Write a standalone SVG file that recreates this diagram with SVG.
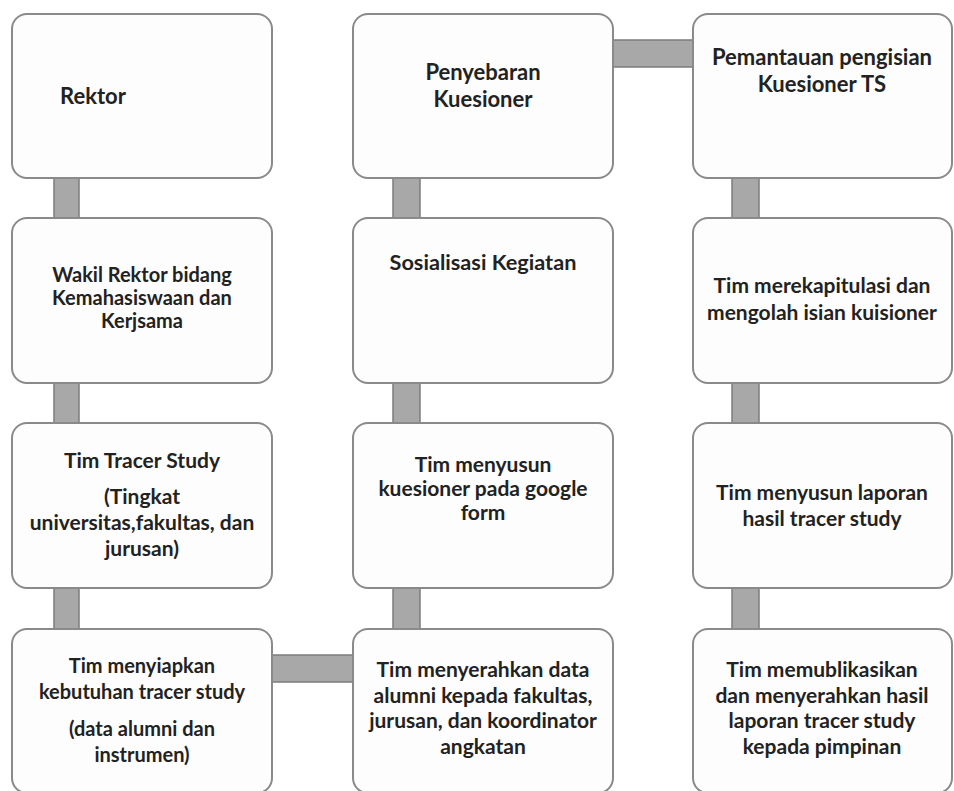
<svg xmlns="http://www.w3.org/2000/svg" width="954" height="791" viewBox="0 0 954 791">
<style>
.bg{fill:#ffffff}
.box{fill:#fdfdfd;stroke:#8a8a8a;stroke-width:2}
.bar{fill:#a8a8a8;stroke:#7c7c7c;stroke-width:1.5}
.t{font-family:Lato,"Open Sans","Liberation Sans",sans-serif;font-weight:bold;font-size:21px;fill:#222;text-anchor:middle}
.l{text-anchor:start}
.s22{font-size:22px}
.s20{font-size:20px}
.s217{font-size:21.7px}
</style>
<rect class="bg" x="0" y="0" width="954" height="791"/>
<g id="connectors">
<rect class="bar" x="54" y="170" width="25" height="56"/>
<rect class="bar" x="54" y="375" width="25" height="56"/>
<rect class="bar" x="54" y="580" width="25" height="56"/>
<rect class="bar" x="393" y="170" width="27" height="56"/>
<rect class="bar" x="393" y="375" width="27" height="56"/>
<rect class="bar" x="393" y="580" width="27" height="56"/>
<rect class="bar" x="732" y="170" width="27" height="56"/>
<rect class="bar" x="732" y="375" width="27" height="56"/>
<rect class="bar" x="732" y="580" width="27" height="56"/>
<rect class="bar" x="605" y="40" width="96" height="27"/>
<rect class="bar" x="264" y="655" width="97" height="27"/>
</g>
<g id="n-rektor">
<rect class="box" x="12" y="14" width="260" height="164" rx="15"/>
<text class="t l s22" x="60" y="104">Rektor</text>
</g>
<g id="n-wakil">
<rect class="box" x="12" y="218" width="260" height="165" rx="15"/>
<text class="t s20" x="142" y="282">Wakil Rektor bidang</text>
<text class="t s20" x="142" y="305">Kemahasiswaan dan</text>
<text class="t s20" x="142" y="328">Kerjsama</text>
</g>
<g id="n-tim-tracer">
<rect class="box" x="12" y="423" width="260" height="165" rx="15"/>
<text class="t" x="142" y="468">Tim Tracer Study</text>
<text class="t" x="142" y="504">(Tingkat</text>
<text class="t" x="142" y="530">universitas,fakultas, dan</text>
<text class="t" x="142" y="556">jurusan)</text>
</g>
<g id="n-menyiapkan">
<rect class="box" x="12" y="629" width="260" height="164" rx="15"/>
<text class="t s20" x="142" y="673">Tim menyiapkan</text>
<text class="t s20" x="142" y="699">kebutuhan tracer study</text>
<text class="t s20" x="142" y="736">(data alumni dan</text>
<text class="t s20" x="142" y="762">instrumen)</text>
</g>
<g id="n-penyebaran">
<rect class="box" x="353" y="14" width="260" height="164" rx="15"/>
<text class="t s22" x="483" y="80">Penyebaran</text>
<text class="t s22" x="483" y="107">Kuesioner</text>
</g>
<g id="n-sosialisasi">
<rect class="box" x="353" y="218" width="260" height="165" rx="15"/>
<text class="t s217" x="483" y="270">Sosialisasi Kegiatan</text>
</g>
<g id="n-menyusun-kuesioner">
<rect class="box" x="353" y="423" width="260" height="165" rx="15"/>
<text class="t" x="483" y="472">Tim menyusun</text>
<text class="t" x="483" y="496">kuesioner pada google</text>
<text class="t" x="483" y="520">form</text>
</g>
<g id="n-menyerahkan-data">
<rect class="box" x="353" y="629" width="260" height="164" rx="15"/>
<text class="t" x="483" y="677">Tim menyerahkan data</text>
<text class="t" x="483" y="703">alumni kepada fakultas,</text>
<text class="t" x="483" y="728">jurusan, dan koordinator</text>
<text class="t" x="483" y="754">angkatan</text>
</g>
<g id="n-pemantauan">
<rect class="box" x="693" y="14" width="259" height="164" rx="15"/>
<text class="t s22" x="822" y="65">Pemantauan pengisian</text>
<text class="t s22" x="822" y="92">Kuesioner TS</text>
</g>
<g id="n-rekap">
<rect class="box" x="693" y="218" width="259" height="165" rx="15"/>
<text class="t" x="822" y="293">Tim merekapitulasi dan</text>
<text class="t" x="822" y="320">mengolah isian kuisioner</text>
</g>
<g id="n-laporan">
<rect class="box" x="693" y="423" width="259" height="165" rx="15"/>
<text class="t" x="822" y="500">Tim menyusun laporan</text>
<text class="t" x="822" y="526">hasil tracer study</text>
</g>
<g id="n-publikasi">
<rect class="box" x="693" y="629" width="259" height="164" rx="15"/>
<text class="t" x="822" y="677">Tim memublikasikan</text>
<text class="t" x="822" y="703">dan menyerahkan hasil</text>
<text class="t" x="822" y="728">laporan tracer study</text>
<text class="t" x="822" y="754">kepada pimpinan</text>
</g>
</svg>
